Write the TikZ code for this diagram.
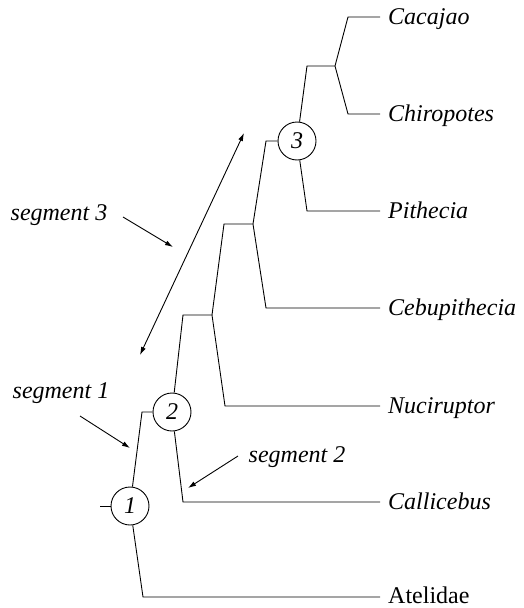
\documentclass[tikz,border=0pt]{standalone}
\usepackage{fontspec}
\setmainfont{Liberation Serif}
\usetikzlibrary{arrows.meta}
\begin{document}
\begin{tikzpicture}[x=1pt,y=-1pt,
  br/.style={line width=0.9pt},
  hn/.style={circle,draw,fill=white,line width=0.9pt,minimum size=38pt,inner sep=0pt,font=\fontsize{24}{28}\selectfont\itshape},
  taxon/.style={anchor=base west,inner sep=0pt,font=\fontsize{24}{28}\selectfont\itshape},
  taxonup/.style={anchor=base west,inner sep=0pt,font=\fontsize{24}{28}\selectfont},
  seg/.style={anchor=base,inner sep=0pt,font=\fontsize{24}{28}\selectfont\itshape},
  ptr/.style={line width=0.9pt,-{Latex[length=8pt,width=5pt]}},
  dptr/.style={line width=0.9pt,{Latex[length=8pt,width=5pt]}-{Latex[length=8pt,width=5pt]}}
]
\useasboundingbox (0,0) rectangle (523,608);
% taxa
\node[taxon] (cac) at (388,24) {Cacajao};
\node[taxon] (chi) at (388,121) {Chiropotes};
\node[taxon] (pit) at (388,218) {Pithecia};
\node[taxon] (ceb) at (388,315) {Cebupithecia};
\node[taxon] (nuc) at (388,413) {Nuciruptor};
\node[taxon] (cal) at (388,509) {Callicebus};
\node[taxonup] (ate) at (388,603) {Atelidae};
% line ends
\coordinate (eCac) at (380,17);
\coordinate (eChi) at (380,114);
\coordinate (ePit) at (380,211);
\coordinate (eCeb) at (380,308);
\coordinate (eNuc) at (380,406);
\coordinate (eCal) at (380,502);
\coordinate (eAte) at (380,597);
% numbered nodes
\node[hn] (n3) at (297,141) {3};
\node[hn] (n2) at (172,412) {2};
\node[hn] (n1) at (130,506) {1};
% joints and bends
\coordinate (jCC) at (335,66);
\coordinate (sCC) at (307,66);
\coordinate (bCac) at (348,17);
\coordinate (bChi) at (348,114);
\coordinate (s3) at (266,141);
\coordinate (bPit) at (307,211);
\coordinate (jA) at (253,224);
\coordinate (sA) at (224,224);
\coordinate (bCeb) at (266,308);
\coordinate (jB) at (212,315);
\coordinate (sB) at (183,315);
\coordinate (bNuc) at (225,406);
\coordinate (bCal) at (183,502);
\coordinate (s2) at (142,412);
\coordinate (bAte) at (143,597);
\coordinate (s1) at (100,506);
% branches
\draw[br] (eCac) -- (bCac) -- (jCC) -- (bChi) -- (eChi);
\draw[br] (jCC) -- (sCC) -- (n3);
\draw[br] (n3) -- (bPit) -- (ePit);
\draw[br] (n3) -- (s3) -- (jA) -- (bCeb) -- (eCeb);
\draw[br] (jA) -- (sA) -- (jB) -- (bNuc) -- (eNuc);
\draw[br] (jB) -- (sB) -- (n2);
\draw[br] (n2) -- (bCal) -- (eCal);
\draw[br] (n2) -- (s2) -- (n1);
\draw[br] (n1) -- (bAte) -- (eAte);
\draw[br] (n1) -- (s1);
% segment labels
\node[seg] (seg3) at (59,220) {segment 3};
\node[seg] (seg1) at (61,398) {segment 1};
\node[seg] (seg2) at (297,462) {segment 2};
\coordinate (a3a) at (140,355);
\coordinate (a3b) at (244,133);
\draw[dptr] (a3a) -- (a3b);
\coordinate (t3) at (123,217);
\coordinate (p3) at (173,247);
\draw[ptr] (t3) -- (p3);
\coordinate (t1) at (80,416);
\coordinate (p1) at (130,448);
\draw[ptr] (t1) -- (p1);
\coordinate (t2) at (238,456);
\coordinate (p2) at (188,488);
\draw[ptr] (t2) -- (p2);
\end{tikzpicture}
\end{document}
